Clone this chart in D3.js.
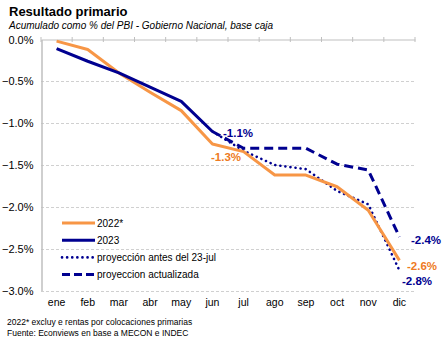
<!DOCTYPE html>
<html><head><meta charset="utf-8">
<script src="https://cdn.jsdelivr.net/npm/d3@7"></script>
<style>body{margin:0;background:#fff}svg{display:block;font-family:"Liberation Sans",Arial,sans-serif}</style>
</head><body><svg id="c" width="443" height="341"></svg>
<script>
const months = ["ene","feb","mar","abr","may","jun","jul","ago","sep","oct","nov","dic"];
const s2022 = [-0.02,-0.12,-0.40,-0.63,-0.85,-1.25,-1.34,-1.62,-1.62,-1.76,-2.04,-2.64];
const s2023 = [-0.11,-0.26,-0.40,-0.57,-0.74,-1.10,null,null,null,null,null,null];
const projAntes = [null,null,null,null,null,-1.10,-1.33,-1.50,-1.55,-1.81,-1.97,-2.76];
const projAct = [null,null,null,null,null,-1.10,-1.30,-1.30,-1.30,-1.49,-1.56,-2.36];
const yTicks = [0,-0.5,-1,-1.5,-2,-2.5,-3];
const seriesNames = ["2022*","2023","proyección antes del 23-jul","proyeccion actualizada"];
const endLabels = [
  {series:"2023", idx:5, text:"-1.1%"},
  {series:"2022*", idx:5, text:"-1.3%"},
  {series:"proyeccion actualizada", idx:11, text:"-2.4%"},
  {series:"2022*", idx:11, text:"-2.6%"},
  {series:"proyección antes del 23-jul", idx:11, text:"-2.8%"}
];

const ORANGE="#F79646", NAVY="#000090", ORTXT="#EE7A22";
const svg=d3.select("#c");
const x=d3.scaleBand().domain(months).range([41,415]);
const y=d3.scaleLinear().domain([0,-3]).range([39.5,290.5]);
const cx=m=>x(m)+x.bandwidth()/2;

// title
svg.append("text").attr("x",9).attr("y",16).attr("font-weight","bold").attr("font-size",13).attr("fill","#000").text("Resultado primario");
svg.append("text").attr("x",9).attr("y",29).attr("font-style","italic").attr("font-size",10).attr("fill","#000").text("Acumulado como % del PBI - Gobierno Nacional, base caja");

// gridlines
svg.append("g").selectAll("line").data(yTicks.filter(d=>d!==0)).join("line")
  .attr("x1",41).attr("x2",415).attr("y1",d=>Math.round(y(d))+0.5).attr("y2",d=>Math.round(y(d))+0.5)
  .attr("stroke","#d0d0d0").attr("stroke-dasharray","3,2").attr("stroke-width",1);

// y axis
const ya=svg.append("g").attr("transform","translate(41.5,0)")
  .call(d3.axisLeft(y).tickValues(yTicks).tickFormat(d=>d3.format(".1f")(d)+"%").tickSize(0).tickPadding(8));
ya.select(".domain").attr("stroke","#bfbfbf").attr("stroke-width",1.5);
ya.selectAll("text").attr("font-size",11).attr("fill","#000").attr("font-family","'Liberation Sans',Arial,sans-serif");

// top category axis (at y=0)
const xa=svg.append("g").attr("transform",`translate(0,${y(0)})`)
  .call(d3.axisTop(x).tickSize(0).tickFormat(""));
xa.select(".domain").attr("stroke","#bfbfbf").attr("stroke-width",1.2);
const bounds=months.map(m=>x(m)).concat([x.range()[1]]);
svg.append("g").selectAll("line").data(bounds).join("line")
  .attr("x1",d=>d).attr("x2",d=>d).attr("y1",y(0)-2.5).attr("y2",y(0)+2.5).attr("stroke","#bfbfbf").attr("stroke-width",1);

// bottom labels
svg.append("g").attr("transform","translate(0,290.5)")
  .call(d3.axisBottom(x).tickSize(0).tickPadding(8))
  .call(g=>g.select(".domain").remove())
  .selectAll("text").attr("font-size",10.5).attr("fill","#000").attr("font-family","'Liberation Sans',Arial,sans-serif");

const line=d3.line().defined(d=>d.v!==null).x(d=>cx(d.m)).y(d=>y(d.v));
const toPts=arr=>arr.map((v,i)=>({m:months[i],v}));
const styles={
  "2022*":{data:s2022,color:ORANGE,w:3,dash:null},
  "2023":{data:s2023,color:NAVY,w:3,dash:null},
  "proyección antes del 23-jul":{data:projAntes,color:NAVY,w:2.6,dash:"0.1,5",cap:"round"},
  "proyeccion actualizada":{data:projAct,color:NAVY,w:3,dash:"9,5"}
};
const drawOrder=["proyección antes del 23-jul","proyeccion actualizada","2022*","2023"];
drawOrder.forEach(n=>{
  const s=styles[n];
  svg.append("path").datum(toPts(s.data)).attr("d",line).attr("fill","none")
    .attr("stroke",s.color).attr("stroke-width",s.w).attr("stroke-dasharray",s.dash)
    .attr("stroke-linecap",s.cap||"butt").attr("stroke-linejoin","round");
});

// value labels
const lblPos={"-1.1%":[223,133],"-1.3%":[211,157],"-2.4%":[411,240],"-2.6%":[407,266],"-2.8%":[402,281]};
endLabels.forEach(l=>{
  const col=l.series==="2022*"?ORTXT:NAVY;
  const p=lblPos[l.text];
  svg.append("text").attr("x",p[0]).attr("y",p[1]).attr("dy","0.35em").attr("font-size",11.5).attr("font-weight","bold")
    .attr("fill",col).text(l.text);
});

// legend
const lg=svg.append("g");
seriesNames.forEach((n,i)=>{
  const s=styles[n]; const yy=223+i*17.2;
  lg.append("line").attr("x1",62).attr("x2",95).attr("y1",yy).attr("y2",yy)
    .attr("stroke",s.color).attr("stroke-width",s.w).attr("stroke-dasharray",n==="proyección antes del 23-jul"?"0.1,5":(n==="proyeccion actualizada"?"8,4":null))
    .attr("stroke-linecap",s.cap||"butt");
  lg.append("text").attr("x",97).attr("y",yy).attr("dy","0.35em").attr("font-size",10).attr("fill","#000").text(n);
});

// footnotes
svg.append("text").attr("x",7).attr("y",324.5).attr("font-size",8.5).attr("fill","#000").text("2022* excluy e rentas por colocaciones  primarias");
svg.append("text").attr("x",7).attr("y",336).attr("font-size",8.5).attr("fill","#000").text("Fuente: Econviews en base a MECON e INDEC");
</script></body></html>
